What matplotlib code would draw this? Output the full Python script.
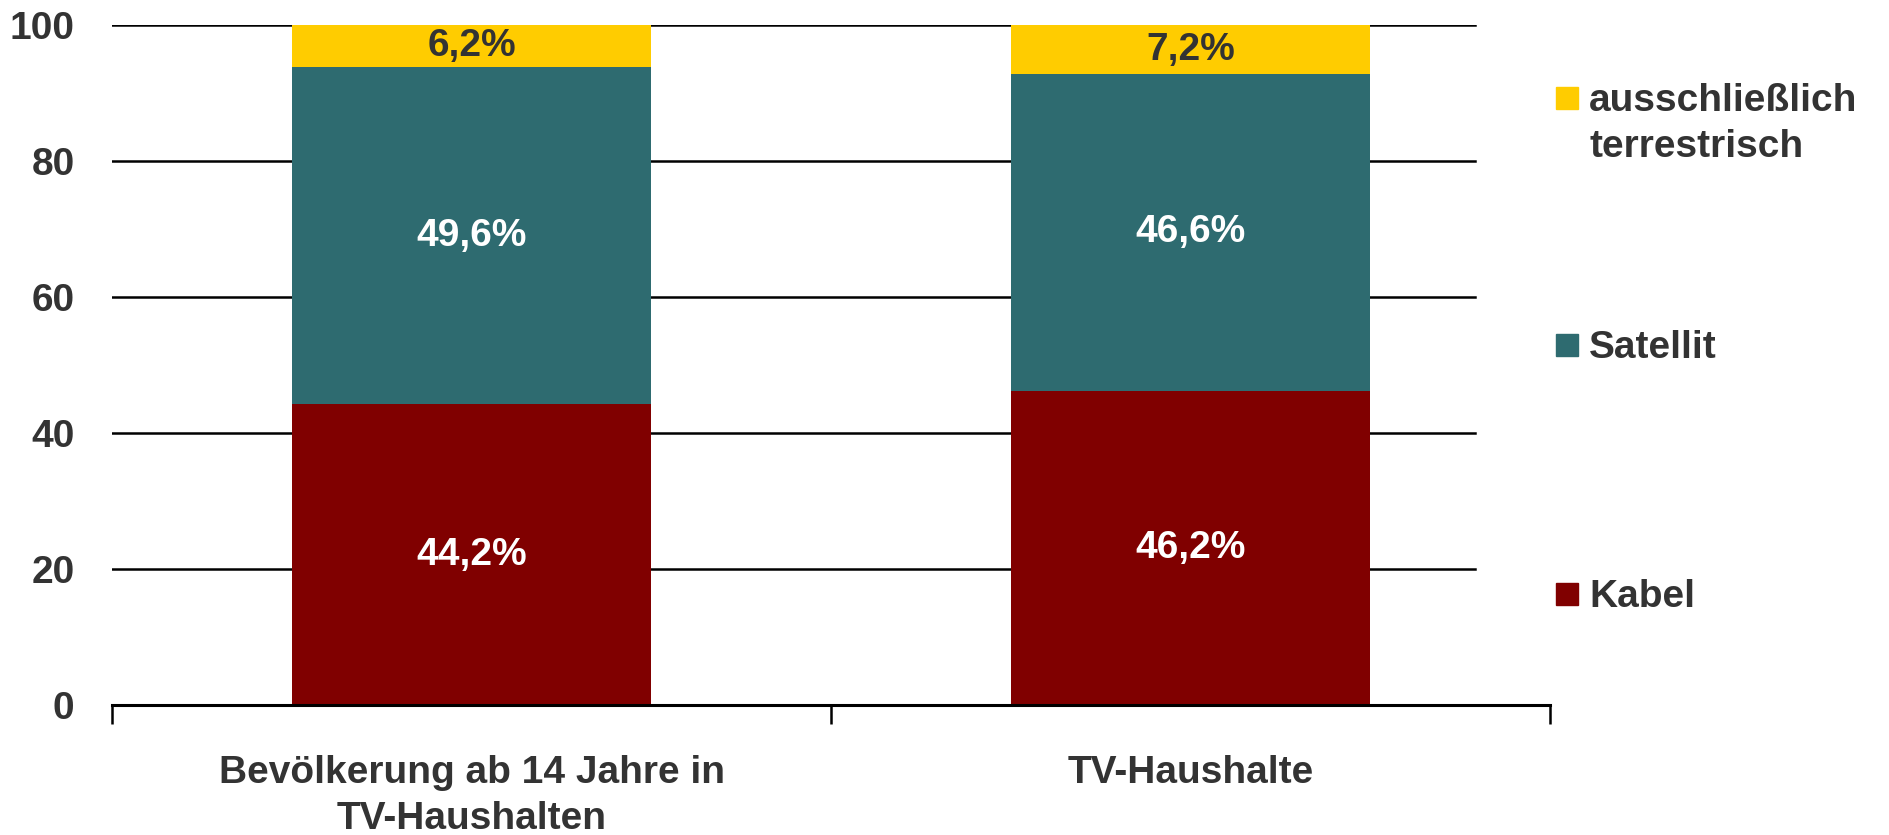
import matplotlib.pyplot as plt
from matplotlib.patches import Rectangle
import numpy as np

plt.rcParams['font.family'] = ['Liberation Sans', 'DejaVu Sans']
plt.rcParams['font.weight'] = 'bold'

categories = ['Bevölkerung ab 14 Jahre in\nTV-Haushalten', 'TV-Haushalte']
series = ['Kabel', 'Satellit', 'ausschließlich\nterrestrisch']
kabel = [44.2, 46.2]
satellit = [49.6, 46.6]
terrestrisch = [6.2, 7.2]
colors = ['#800000', '#2E6B70', '#FFCC00']
label_colors = ['white', 'white', '#333333']
yticks = [0, 20, 40, 60, 80, 100]

textc = '#333333'
fs = 28

fig = plt.figure(figsize=(18.9, 8.35), dpi=100)
ax = fig.add_axes([0.0593, 0.1557, 0.7608, 0.8143])

x = np.arange(len(categories))
bottom = np.zeros(len(categories))
for vals, col, lc in zip([kabel, satellit, terrestrisch], colors, label_colors):
    bars = ax.bar(x, vals, width=0.5, bottom=bottom, color=col, zorder=3)
    ax.bar_label(bars, labels=[f'{v:.1f}%'.replace('.', ',') for v in vals],
                 label_type='center', color=lc, fontsize=fs, fontweight='bold')
    bottom += np.array(vals)

# gridlines stop short of the right end of the axis
for yt in yticks[1:]:
    ax.axhline(yt, xmin=0, xmax=0.948, color='black', lw=1.8, zorder=1)

ax.set_xlim(-0.5, 1.5)
ax.set_ylim(0, 100)
ax.set_yticks(yticks)
ax.set_yticklabels([str(v) for v in yticks], fontsize=fs, color=textc)
ax.tick_params(axis='y', length=0, pad=27)

ax.set_xticks(x)
ax.set_xticklabels(categories, fontsize=fs, color=textc, linespacing=1.35)
ax.set_xticks([-0.5, 0.5, 1.5], minor=True)
ax.tick_params(axis='x', which='major', length=0, pad=36)
ax.tick_params(axis='x', which='minor', length=14, width=1.8, color='black')

for s in ['top', 'right', 'left']:
    ax.spines[s].set_visible(False)
ax.spines['bottom'].set_linewidth(2.2)
ax.spines['bottom'].set_color('black')
ax.spines['bottom'].set_zorder(4)

# legend, drawn by hand in figure pixels (top-down order)
H = 835.0
W = 1890.0
legend_rows = [(series[2], colors[2], 98), (series[1], colors[1], 345), (series[0], colors[0], 594)]
for lab, col, yc in legend_rows:
    fig.patches.append(Rectangle((1556 / W, 1 - (yc + 11) / H), 22 / W, 22 / H,
                                 transform=fig.transFigure, color=col))
    fig.text(1589 / W, 1 - (yc - 15) / H, lab, fontsize=fs, color=textc,
             va='top', ha='left', linespacing=1.35)

fig.savefig('out.png', dpi=100)
